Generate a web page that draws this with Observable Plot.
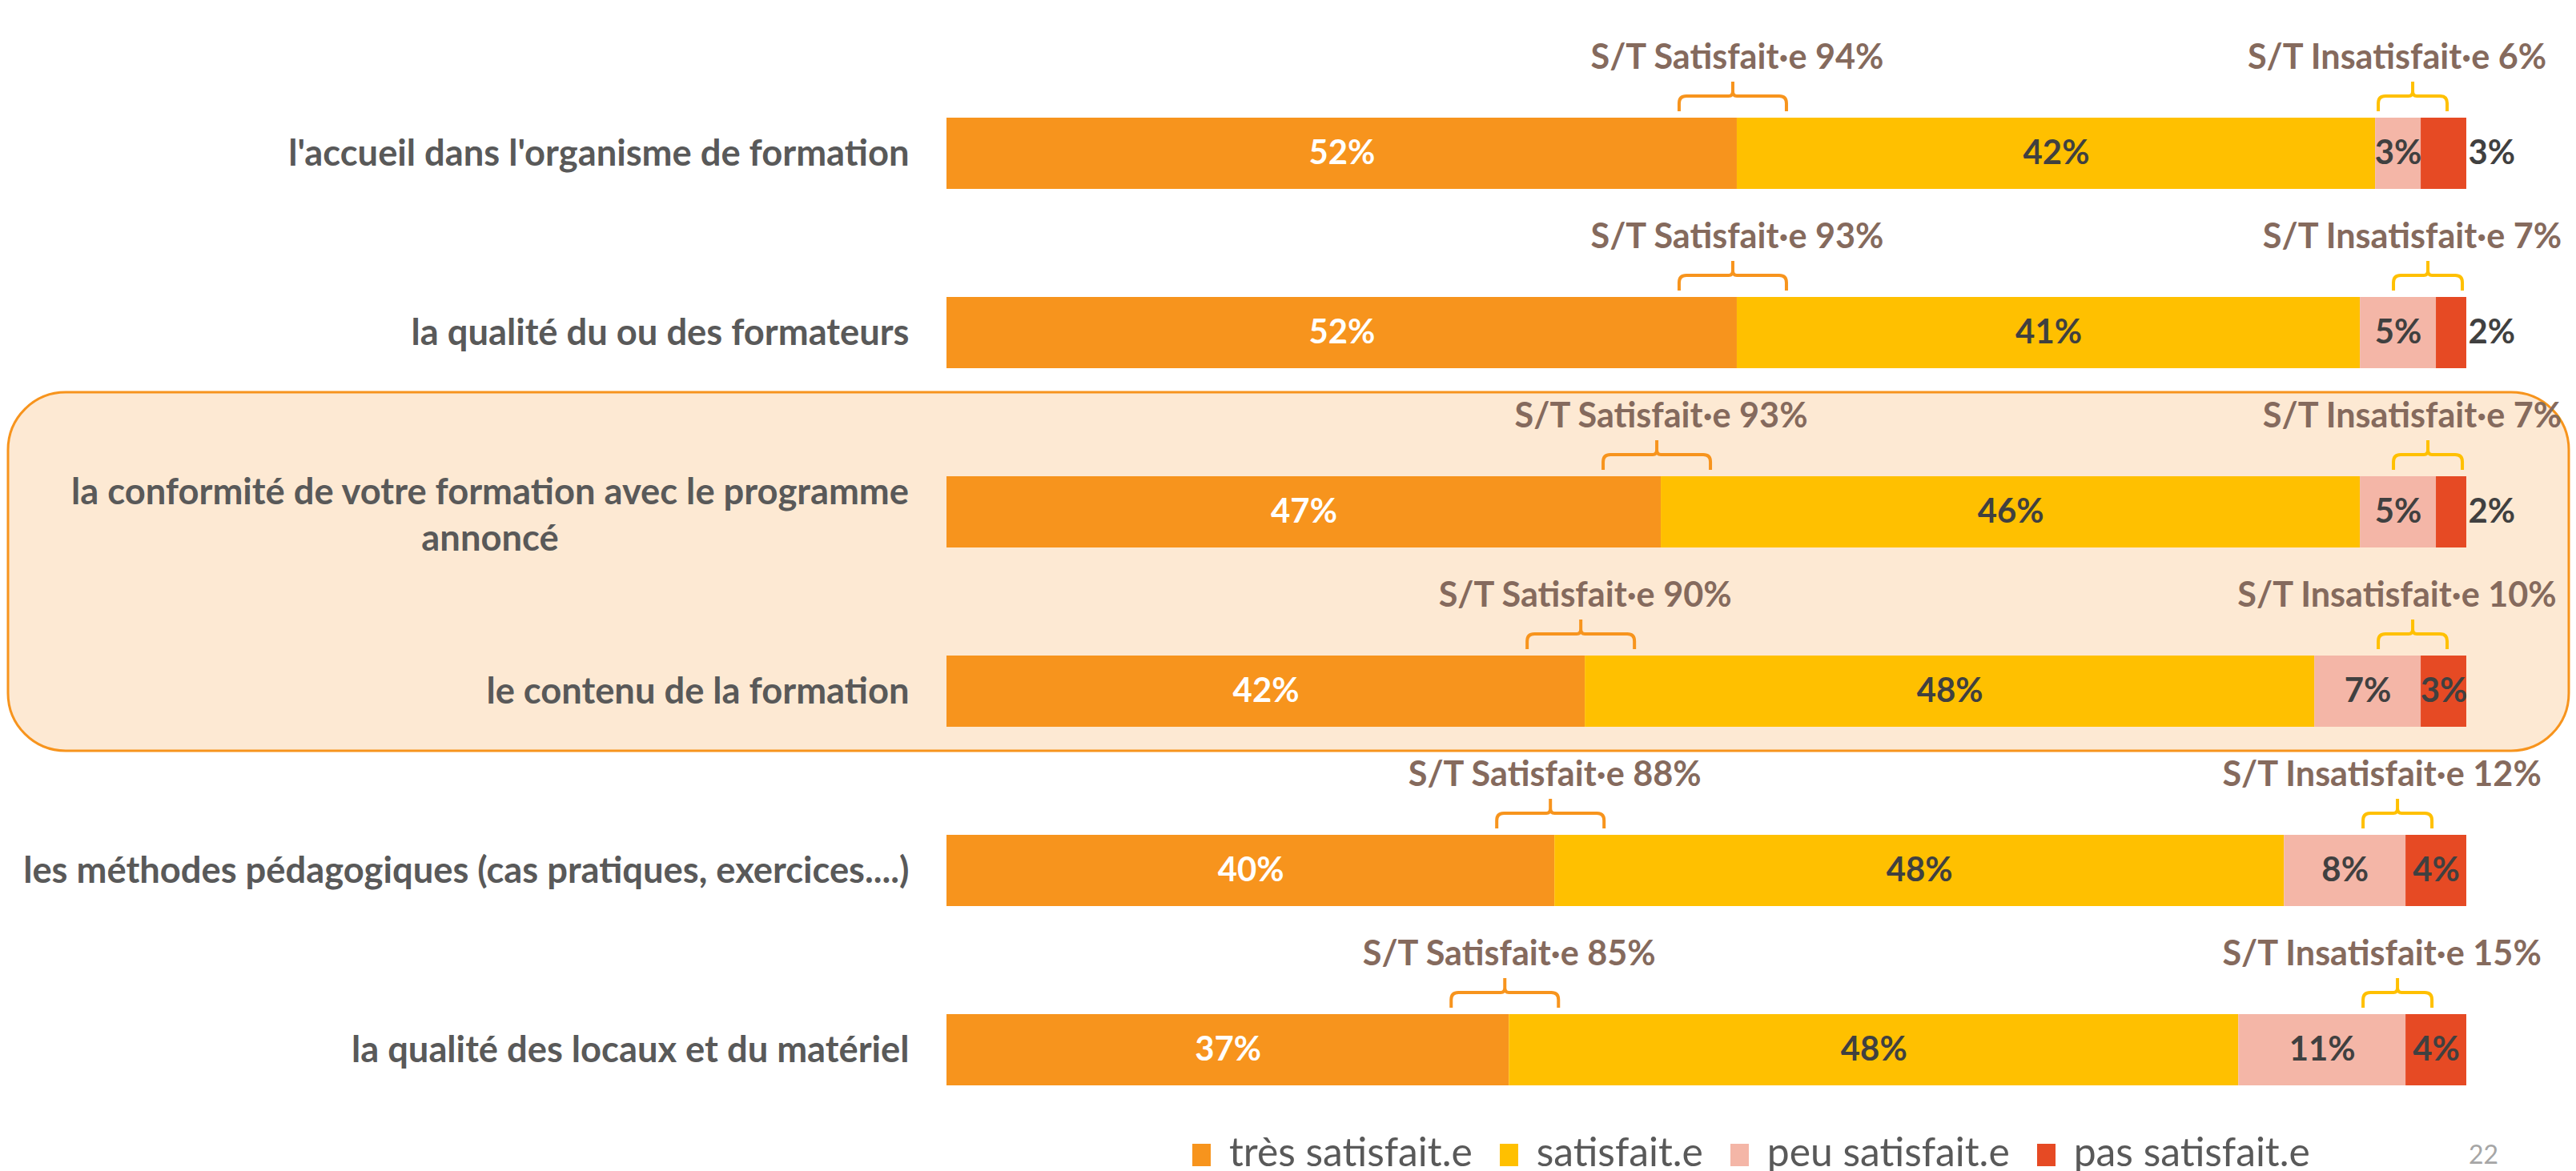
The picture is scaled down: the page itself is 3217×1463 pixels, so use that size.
<!DOCTYPE html>
<html><head><meta charset="utf-8">
<script src="https://cdn.jsdelivr.net/npm/d3@7"></script>
<script src="https://cdn.jsdelivr.net/npm/@observablehq/plot@0.6"></script>
<style>
html,body{margin:0;padding:0;background:#fff;width:3217px;height:1463px;overflow:hidden;position:relative;font-family:Lato,"Open Sans",sans-serif}
#chart{position:absolute;left:0;top:0}
#legend{position:absolute;left:1489px;top:1414px;display:flex;align-items:baseline;line-height:1;color:#595959;white-space:nowrap}
.item{display:flex;align-items:baseline;margin-right:34px}
.sw{display:inline-block;width:23px;height:28px;margin-right:23px}
#page{position:absolute;left:3083px;top:1426px;font-size:32px;line-height:1;color:#a6a6a6}
</style></head><body>
<div id="chart"></div>
<div id="legend"></div>
<div id="page">22</div>
<script>
// ---- data ----
const categories = [
  "l'accueil dans l'organisme de formation",
  "la qualité du ou des formateurs",
  "la conformité de votre formation avec le programme\nannoncé",
  "le contenu de la formation",
  "les méthodes pédagogiques (cas pratiques, exercices....)",
  "la qualité des locaux et du matériel"
];
const tres = [52, 52, 47, 42, 40, 37];
const sat  = [42, 41, 46, 48, 48, 48];
const peu  = [3, 5, 5, 7, 8, 11];
const pas  = [3, 2, 2, 3, 4, 4];
const levels = ["très satisfait.e", "satisfait.e", "peu satisfait.e", "pas satisfait.e"];
const colors = ["#F7941D", "#FFC000", "#F4B6A7", "#E64A24"];
const highlighted = [categories[2], categories[3]];

// ---- fonts sized to match reference text widths ----
const ctx = document.createElement("canvas").getContext("2d");
function fit(text, target, weight) {
  ctx.font = `${weight} 100px Lato`;
  return Math.round(1000 * target / ctx.measureText(text).width) / 10;
}
function measure(text, size, weight) {
  ctx.font = `${weight} ${size}px Lato`;
  return ctx.measureText(text).width;
}
const labelSize = fit("le contenu de la formation", 528, "bold");
const valueSize = fit("52%", 83, "bold");
const annSize = fit("S/T Insatisfait·e 6%", 375, "bold");
const legendSize = fit("très satisfait.e", 304, "normal");

// ---- derived table ----
const series = [tres, sat, peu, pas];
const rows = [];
categories.forEach((c, i) => {
  let acc = 0;
  series.forEach((s, j) => {
    rows.push({cat: c, level: levels[j], value: s[i], x1: acc, x2: acc + s[i], i, j});
    acc += s[i];
  });
});
const outside = d => d.j === 3 && (d.value < 3 || peu[d.i] <= 3);

const labelColor = "#595959", darkText = "#404040", annColor = "#856A5D";
const gap = 47;

const singleLabels = categories.filter(c => !c.includes("\n"));
const multiLabels = categories.filter(c => c.includes("\n"));

function brace(g, cx, hw, top, color) {
  const yLeg = top - 8, yH = top - 27, yPeak = top - 45, r = 9;
  const p = `M${cx - hw},${yLeg} L${cx - hw},${yH + r} Q${cx - hw},${yH} ${cx - hw + r},${yH} L${cx - 5},${yH} Q${cx},${yH} ${cx},${yH - 6} L${cx},${yPeak} M${cx},${yH - 6} Q${cx},${yH} ${cx + 5},${yH} L${cx + hw - r},${yH} Q${cx + hw},${yH} ${cx + hw},${yH + r} L${cx + hw},${yLeg}`;
  g.append("path").attr("d", p).attr("fill", "none").attr("stroke", color).attr("stroke-width", 4);
}

const chart = Plot.plot({
  width: 3217,
  height: 1400,
  marginLeft: 1182,
  marginRight: 137,
  marginTop: 146,
  marginBottom: 44,
  style: {fontFamily: "Lato, 'Open Sans', sans-serif", background: "transparent", overflow: "visible"},
  x: {domain: [0, 100], axis: null},
  y: {domain: categories, axis: null, paddingInner: 0.603, paddingOuter: 0, align: 0.5},
  color: {domain: levels, range: colors},
  marks: [
    // highlight box behind the two grouped rows
    (index, scales, values, dimensions) => {
      const y = scales.y, bw = y.bandwidth();
      const top = y(highlighted[0]) - 105;
      const bottom = y(highlighted[highlighted.length - 1]) + bw + 30;
      const g = d3.create("svg:g");
      g.append("rect").attr("x", 10).attr("y", top)
        .attr("width", dimensions.width - 19).attr("height", bottom - top)
        .attr("rx", 72).attr("ry", 72)
        .attr("fill", "#FDE9D3").attr("stroke", "#F7941D").attr("stroke-width", 3);
      return g.node();
    },
    Plot.barX(rows, {x1: "x1", x2: "x2", y: "cat", fill: "level"}),
    Plot.text(rows.filter(d => d.j === 0), {
      x: d => (d.x1 + d.x2) / 2, y: "cat", text: d => d.value + "%",
      fill: "white", fontSize: valueSize, fontWeight: "bold"
    }),
    Plot.text(rows.filter(d => d.j > 0 && !outside(d)), {
      x: d => (d.x1 + d.x2) / 2, y: "cat", text: d => d.value + "%",
      fill: darkText, fontSize: valueSize, fontWeight: "bold"
    }),
    Plot.text(rows.filter(outside), {
      x: "x2", y: "cat", text: d => d.value + "%", textAnchor: "start", dx: 2,
      fill: darkText, fontSize: valueSize, fontWeight: "bold"
    }),
    // category labels
    Plot.text(singleLabels, {
      y: d => d, text: d => d, frameAnchor: "left", textAnchor: "end", dx: -gap,
      fill: labelColor, fontSize: labelSize, fontWeight: "bold"
    }),
    ...multiLabels.map(c => {
      const w = d3.max(c.split("\n"), l => measure(l, labelSize, "bold"));
      return Plot.text([c], {
        y: d => d, text: d => d, frameAnchor: "left", textAnchor: "middle",
        dx: -(gap + w / 2), lineHeight: 58 / labelSize,
        fill: labelColor, fontSize: labelSize, fontWeight: "bold"
      });
    }),
    // braces
    (index, scales) => {
      const {x, y} = scales;
      const g = d3.create("svg:g");
      categories.forEach((c, i) => {
        const top = y(c);
        brace(g, x(tres[i]) - 5, 67, top, "#F7941D");
        brace(g, x(tres[i] + sat[i] + peu[i]) - 10, 43, top, "#FFC000");
      });
      return g.node();
    },
    // S/T annotations
    Plot.text(categories, {
      x: (d, i) => tres[i], y: d => d,
      text: (d, i) => `S/T Satisfait·e ${tres[i] + sat[i]}%`,
      dy: -106, lineAnchor: "bottom",
      fill: annColor, fontSize: annSize, fontWeight: "bold"
    }),
    Plot.text(categories, {
      x: (d, i) => tres[i] + sat[i] + peu[i], y: d => d,
      text: (d, i) => `S/T Insatisfait·e ${peu[i] + pas[i]}%`,
      dx: -30, dy: -106, lineAnchor: "bottom",
      fill: annColor, fontSize: annSize, fontWeight: "bold"
    })
  ]
});
document.getElementById("chart").appendChild(chart);

// legend
const legend = document.getElementById("legend");
legend.style.fontSize = legendSize + "px";
levels.forEach((l, j) => {
  const item = document.createElement("div");
  item.className = "item";
  const sw = document.createElement("span");
  sw.className = "sw";
  sw.style.background = colors[j];
  const t = document.createElement("span");
  t.textContent = l;
  item.appendChild(sw);
  item.appendChild(t);
  legend.appendChild(item);
});
</script>
</body></html>
